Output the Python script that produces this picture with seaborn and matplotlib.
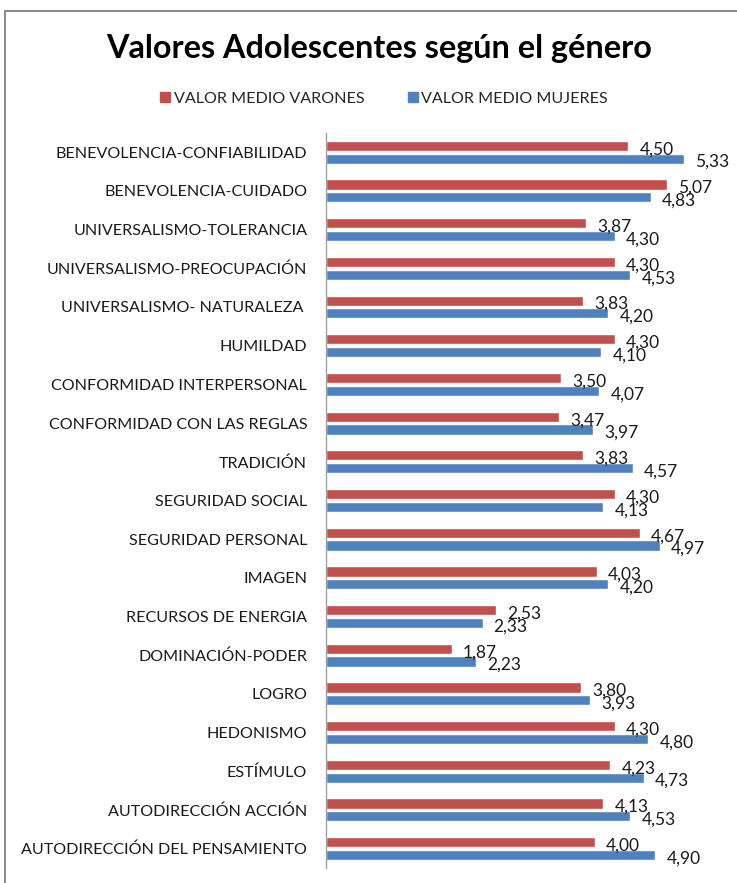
import pandas as pd
import matplotlib.pyplot as plt
import seaborn as sns
from matplotlib.lines import Line2D

categorias = [
    'BENEVOLENCIA-CONFIABILIDAD', 'BENEVOLENCIA-CUIDADO', 'UNIVERSALISMO-TOLERANCIA',
    'UNIVERSALISMO-PREOCUPACIÓN', 'UNIVERSALISMO- NATURALEZA ', 'HUMILDAD',
    'CONFORMIDAD INTERPERSONAL', 'CONFORMIDAD CON LAS REGLAS', 'TRADICIÓN',
    'SEGURIDAD SOCIAL', 'SEGURIDAD PERSONAL', 'IMAGEN', 'RECURSOS DE ENERGIA',
    'DOMINACIÓN-PODER', 'LOGRO', 'HEDONISMO', 'ESTÍMULO', 'AUTODIRECCIÓN ACCIÓN',
    'AUTODIRECCIÓN DEL PENSAMIENTO',
]
varones = [4.50, 5.07, 3.87, 4.30, 3.83, 4.30, 3.50, 3.47, 3.83, 4.30,
           4.67, 4.03, 2.53, 1.87, 3.80, 4.30, 4.23, 4.13, 4.00]
mujeres = [5.33, 4.83, 4.30, 4.53, 4.20, 4.10, 4.07, 3.97, 4.57, 4.13,
           4.97, 4.20, 2.33, 2.23, 3.93, 4.80, 4.73, 4.53, 4.90]
series = ['VALOR MEDIO VARONES', 'VALOR MEDIO MUJERES']
colores = ['#C0504D', '#4F81BD']

df = pd.DataFrame({
    'categoria': categorias * 2,
    'valor': varones + mujeres,
    'serie': [series[0]] * len(categorias) + [series[1]] * len(categorias),
})

sns.set_theme(style='white')
plt.rcParams['font.family'] = ['Lato', 'DejaVu Sans']

fig = plt.figure(figsize=(7.37, 8.83), dpi=100)
ax = fig.add_axes([0.4423, 0.017, 0.547, 0.8325])

sns.barplot(data=df, x='valor', y='categoria', hue='serie', hue_order=series,
            order=categorias, palette=colores, orient='h', width=0.66, gap=0.2,
            ax=ax, legend=False, saturation=1)

# etiquetas de datos con coma decimal
for cont in ax.containers:
    for rect in cont:
        w = rect.get_width()
        ax.annotate(f'{w:.2f}'.replace('.', ','),
                    (w, rect.get_y() + rect.get_height() / 2),
                    xytext=(8, -2.5), textcoords='offset points',
                    ha='left', va='center', fontsize=12.5, color='#1a1a1a')

ax.set_xlim(0, 6)
ax.set_ylim(18.5, -0.5)
ax.set_xlabel('')
ax.set_ylabel('')
ax.set_xticks([])
ax.tick_params(axis='y', length=0, labelsize=11.6, pad=13.5, colors='#1a1a1a')
for s in ['top', 'right', 'bottom']:
    ax.spines[s].set_visible(False)
ax.spines['left'].set_color('#a0a0a0')
ax.spines['left'].set_linewidth(1)

fig.text(0.515, 0.945, 'Valores Adolescentes según el género', ha='center', va='center',
         fontsize=23.3, fontweight='bold', color='black')

handles = [Line2D([], [], marker='s', linestyle='', markersize=7.5, color=c) for c in colores]
fig.legend(handles, series, loc='center', bbox_to_anchor=(0.52, 0.888), ncol=2,
           frameon=False, fontsize=11.6, handletextpad=0.15, columnspacing=2.6,
           handlelength=0.8)

# marco del gráfico
fig.add_artist(Line2D([5 / 737, 1], [1 - 11 / 883, 1 - 11 / 883], color='#8c8c8c', lw=1.5,
                      transform=fig.transFigure))
fig.add_artist(Line2D([5 / 737, 5 / 737], [1 - 11 / 883, 0], color='#8c8c8c', lw=1.5,
                      transform=fig.transFigure))

fig.savefig('out.png', dpi=100)
